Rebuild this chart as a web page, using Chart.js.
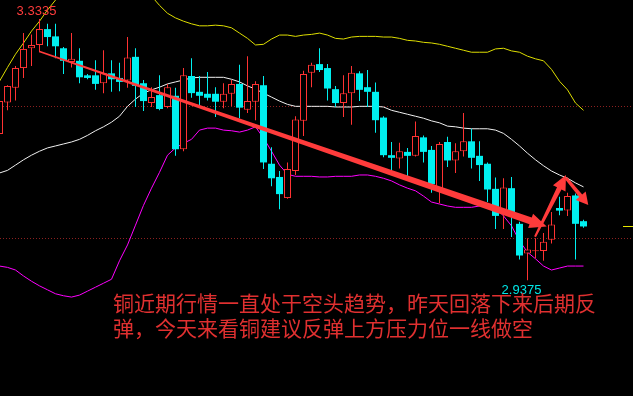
<!DOCTYPE html>
<html>
<head>
<meta charset="utf-8">
<script src="https://cdn.jsdelivr.net/npm/chart.js@4.4.0/dist/chart.umd.min.js"></script>
<style>
html,body{margin:0;padding:0;background:#000;}
#wrap{position:relative;width:633px;height:396px;overflow:hidden;background:#000;}
canvas{display:block;}
#note{position:absolute;left:113px;top:290px;font-family:"Noto Sans CJK SC","Noto Sans CJK JP",sans-serif;font-size:21px;line-height:25px;color:#e03030;white-space:nowrap;}
</style>
</head>
<body>
<div id="wrap"><canvas id="c" width="633" height="396"></canvas><div id="note"></div></div>
<script>
// ---- candle data (one entry per trading session) ----
const OPEN  = [3.159,3.207,3.229,3.259,3.289,3.294,3.318,3.307,3.289,3.268,
               3.270,3.248,3.248,3.236,3.251,3.244,3.240,3.276,3.236,3.206,
               3.218,3.200,3.217,3.136,3.247,3.223,3.220,3.220,3.208,3.220,
               3.235,3.196,3.208,3.233,3.114,3.094,3.062,3.103,3.179,3.252,
               3.265,3.259,3.227,3.206,3.221,3.251,3.230,3.223,3.184,3.127,
               3.122,3.132,3.126,3.154,3.135,3.077,3.147,3.119,3.133,3.148,
               3.126,3.114,3.076,3.043,3.077,3.023,2.978,2.9815,2.982,2.999,
               3.047,3.043,3.066,3.027];
const HIGH  = [3.214,3.233,3.262,3.312,3.310,3.3335,3.326,3.326,3.291,3.312,
               3.289,3.250,3.271,3.286,3.271,3.267,3.306,3.289,3.241,3.230,
               3.248,3.235,3.229,3.259,3.274,3.247,3.253,3.230,3.236,3.241,
               3.264,3.277,3.239,3.247,3.139,3.103,3.116,3.186,3.255,3.267,
               3.289,3.265,3.232,3.248,3.262,3.254,3.256,3.237,3.186,3.147,
               3.146,3.138,3.178,3.157,3.141,3.147,3.155,3.145,3.191,3.167,
               3.148,3.116,3.093,3.092,3.094,3.026,3.001,3.001,3.009,3.041,
               3.064,3.070,3.069,3.029];
const LOW   = [3.154,3.195,3.210,3.244,3.262,3.283,3.292,3.274,3.250,3.260,
               3.236,3.242,3.226,3.221,3.223,3.224,3.229,3.200,3.194,3.200,
               3.195,3.198,3.126,3.133,3.214,3.201,3.210,3.185,3.198,3.201,
               3.183,3.191,3.180,3.106,3.080,3.045,3.061,3.097,3.156,3.230,
               3.253,3.210,3.200,3.185,3.173,3.209,3.200,3.161,3.124,3.102,
               3.107,3.094,3.125,3.116,3.070,3.054,3.109,3.100,3.125,3.107,
               3.088,3.056,3.015,3.015,3.003,2.969,2.9375,2.971,2.967,2.993,
               3.036,3.035,2.969,3.017];
const CLOSE = [3.209,3.232,3.259,3.288,3.294,3.318,3.306,3.292,3.270,3.273,
               3.245,3.244,3.235,3.251,3.242,3.238,3.275,3.232,3.209,3.215,
               3.197,3.230,3.136,3.248,3.221,3.217,3.214,3.208,3.220,3.235,
               3.199,3.209,3.235,3.116,3.092,3.068,3.106,3.181,3.250,3.264,
               3.256,3.228,3.206,3.221,3.252,3.226,3.223,3.180,3.127,3.123,
               3.133,3.126,3.156,3.132,3.083,3.144,3.119,3.133,3.148,3.123,
               3.112,3.075,3.035,3.078,3.035,2.975,2.984,2.983,2.996,3.022,
               3.043,3.065,3.023,3.019];

// ---- Bollinger bands ----
const BOLL_UP  = [3.239,3.260,3.280,3.297,3.315,3.330,3.347,3.362,3.377,3.392,
                  3.404,3.414,3.420,3.423,3.423,3.420,3.410,3.398,3.383,3.368,
                  3.354,3.342,3.335,3.330,3.326,3.323,3.323,3.324,3.323,3.320,
                  3.312,3.304,3.294,3.295,3.303,3.309,3.309,3.307,3.309,3.310,
                  3.312,3.309,3.304,3.303,3.306,3.307,3.307,3.307,3.306,3.306,
                  3.304,3.301,3.300,3.298,3.297,3.295,3.292,3.289,3.286,3.283,
                  3.283,3.283,3.288,3.289,3.285,3.283,3.277,3.273,3.270,3.257,
                  3.239,3.226,3.206,3.195];
const BOLL_MID = [3.100,3.104,3.112,3.120,3.127,3.133,3.138,3.141,3.144,3.147,
                  3.151,3.157,3.164,3.170,3.177,3.186,3.201,3.212,3.221,3.226,
                  3.230,3.235,3.238,3.241,3.244,3.245,3.245,3.245,3.245,3.242,
                  3.238,3.232,3.227,3.221,3.215,3.209,3.204,3.201,3.201,3.201,
                  3.201,3.201,3.200,3.200,3.200,3.201,3.201,3.201,3.200,3.195,
                  3.192,3.189,3.186,3.183,3.179,3.176,3.171,3.170,3.168,3.167,
                  3.167,3.167,3.165,3.160,3.151,3.141,3.130,3.120,3.111,3.103,
                  3.097,3.092,3.085,3.079];
const BOLL_LOW = [2.959,2.957,2.953,2.944,2.936,2.929,2.923,2.917,2.914,2.912,
                  2.915,2.921,2.927,2.933,2.939,2.967,2.991,3.021,3.051,3.077,
                  3.101,3.127,3.138,3.145,3.151,3.165,3.168,3.168,3.165,3.164,
                  3.162,3.165,3.170,3.153,3.133,3.112,3.098,3.095,3.095,3.095,
                  3.094,3.094,3.095,3.095,3.095,3.097,3.097,3.095,3.092,3.088,
                  3.082,3.077,3.073,3.065,3.056,3.053,3.050,3.048,3.048,3.048,
                  3.050,3.051,3.047,3.035,3.020,2.997,2.980,2.970,2.959,2.953,
                  2.956,2.959,2.959,2.959];

// ---- price levels with dotted guide lines ----
const GRID_LEVELS = [3.0, 3.2];

// ---- hand-drawn trend arrows, in (session index, price) ----
const ARROWS = [
  {from:[5.0, 3.284],   to:[68.4, 3.019]},
  {from:[66.94, 3.0035],to:[70.81, 3.097]},
  {from:[70.81, 3.0925],to:[73.6, 3.0515]}
];

// ---- annotation text ----
const NOTE_LINES = ["铜近期行情一直处于空头趋势，昨天回落下来后期反",
                    "弹，今天来看铜建议反弹上方压力位一线做空"];

// ================== rendering ==================
const UP = '#ff3232', DOWN = '#00f0f0';
const IDX = OPEN.map((_, i) => i);
const isUp = i => CLOSE[i] >= OPEN[i];
const ARROW_STYLE = [
  {w0:1.5, w1:7, head:17, half:7.5},
  {w0:2,   w1:5, head:15, half:7},
  {w0:3,   w1:4, head:12, half:6.5}
];

document.getElementById('note').innerHTML = NOTE_LINES.join('<br>');

function drawArrow(ctx, p0, p1, s) {
  const dx = p1[0]-p0[0], dy = p1[1]-p0[1];
  const len = Math.hypot(dx, dy);
  const ux = dx/len, uy = dy/len, nx = -uy, ny = ux;
  const bx = p1[0]-ux*s.head, by = p1[1]-uy*s.head;
  ctx.beginPath();
  ctx.moveTo(p0[0]+nx*s.w0/2, p0[1]+ny*s.w0/2);
  ctx.lineTo(bx+nx*s.w1/2, by+ny*s.w1/2);
  ctx.lineTo(bx+nx*s.half, by+ny*s.half);
  ctx.lineTo(p1[0], p1[1]);
  ctx.lineTo(bx-nx*s.half, by-ny*s.half);
  ctx.lineTo(bx-nx*s.w1/2, by-ny*s.w1/2);
  ctx.lineTo(p0[0]-nx*s.w0/2, p0[1]-ny*s.w0/2);
  ctx.closePath();
  ctx.fill();
}

const overlay = {
  id: 'overlay',
  afterDatasetsDraw(chart) {
    const {ctx, chartArea} = chart;
    const xs = chart.scales.x, ys = chart.scales.y;
    ctx.save();
    // last price marker at right edge
    const yl = Math.round(ys.getPixelForValue(CLOSE[CLOSE.length-1])) + 0.5;
    ctx.strokeStyle = '#e6e600'; ctx.lineWidth = 1;
    ctx.beginPath(); ctx.moveTo(chartArea.right-10, yl); ctx.lineTo(chartArea.right, yl); ctx.stroke();
    // arrows
    ctx.fillStyle = '#ff3b3b';
    ARROWS.forEach((a, k) => {
      const p0 = [xs.getPixelForValue(a.from[0]), ys.getPixelForValue(a.from[1])];
      const p1 = [xs.getPixelForValue(a.to[0]), ys.getPixelForValue(a.to[1])];
      drawArrow(ctx, p0, p1, ARROW_STYLE[k]);
    });
    // extreme price labels
    const hi = Math.max(...HIGH), lo = Math.min(...LOW);
    const hiI = HIGH.indexOf(hi), loI = LOW.indexOf(lo);
    ctx.font = '13px "Liberation Sans", Arial, sans-serif';
    ctx.textAlign = 'center'; ctx.textBaseline = 'alphabetic';
    ctx.fillStyle = '#ff3c3c';
    ctx.fillText(hi.toFixed(4), xs.getPixelForValue(hiI) - 3, ys.getPixelForValue(hi) - 4);
    ctx.fillStyle = '#00e6e6';
    ctx.fillText(lo.toFixed(4), xs.getPixelForValue(loI) - 6, ys.getPixelForValue(lo) + 14);
    ctx.restore();
  }
};

new Chart(document.getElementById('c'), {
  type: 'bar',
  data: {
    datasets: [
      { type:'bar', label:'wick', stack:'candle', order:2,
        data: IDX.map(i => ({x:i, y:[LOW[i], HIGH[i]]})),
        barThickness:1, inflateAmount:0, borderWidth:0,
        backgroundColor: c => isUp(c.dataIndex) ? UP : DOWN },
      { type:'bar', label:'body', stack:'candle', order:1,
        data: IDX.map(i => ({x:i, y:[OPEN[i], CLOSE[i]]})),
        barThickness:7, inflateAmount:0, borderSkipped:false, minBarLength:1,
        backgroundColor: c => isUp(c.dataIndex) ? '#000000' : DOWN,
        borderColor: c => isUp(c.dataIndex) ? UP : DOWN,
        borderWidth: c => isUp(c.dataIndex) ? 1 : 0 },
      { type:'line', label:'UPPER', order:3, data: IDX.map(i => ({x:i, y:BOLL_UP[i]})),
        borderColor:'#dede00', borderWidth:1, pointRadius:0, tension:0, fill:false },
      { type:'line', label:'MID', order:4, data: IDX.map(i => ({x:i, y:BOLL_MID[i]})),
        borderColor:'#f0f0f0', borderWidth:1, pointRadius:0, tension:0, fill:false },
      { type:'line', label:'LOWER', order:5, data: IDX.map(i => ({x:i, y:BOLL_LOW[i]})),
        borderColor:'#ff00ff', borderWidth:1, pointRadius:0, tension:0, fill:false }
    ]
  },
  options: {
    responsive:false, animation:false, events:[],
    layout:{padding:0},
    plugins:{legend:{display:false}, tooltip:{enabled:false}},
    scales: {
      x: { type:'linear', min:0.0625, max:79.1875, offset:false, display:false, stacked:undefined },
      y: { type:'linear', min:2.762121, max:3.362121, stacked:false, display:true,
           afterBuildTicks: s => { s.ticks = GRID_LEVELS.map(v => ({value:v})); },
           ticks:{display:false},
           grid:{color:'#8c2020', lineWidth:1, drawTicks:false},
           border:{display:false, dash:[1,2]} }
    }
  },
  plugins:[overlay]
});
</script>
</body>
</html>
